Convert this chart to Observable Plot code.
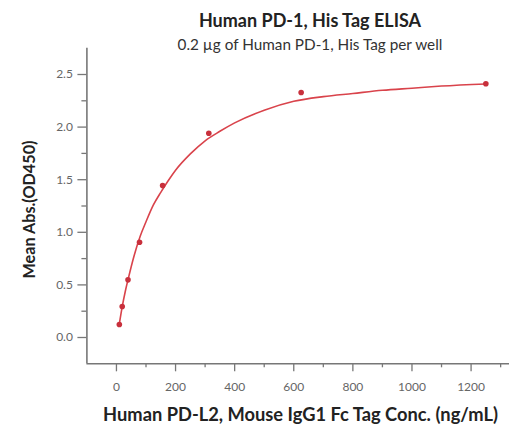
<!DOCTYPE html>
<html>
<head>
<meta charset="utf-8">
<script src="https://cdn.jsdelivr.net/npm/d3@7"></script>
<script src="https://cdn.jsdelivr.net/npm/@observablehq/plot@0.6"></script>
<style>
  html, body { margin: 0; padding: 0; background: #ffffff; }
  body { width: 514px; height: 439px; overflow: hidden; font-family: Lato, sans-serif; }
  .title { position: relative; z-index: 2; margin-top: 10px; height: 20px; line-height: 20px; padding-left: 106px; text-align: center; font-weight: bold; font-size: 18px; color: #222; white-space: nowrap; }
  .subtitle { position: relative; z-index: 2; margin-top: 6px; height: 16px; line-height: 16px; padding-left: 106px; text-align: center; font-size: 15.3px; color: #333; white-space: nowrap; }
  #chart { margin-top: -22px; }
  #chart svg { display: block; }
</style>
</head>
<body>
<div class="title">Human PD-1, His Tag ELISA</div>
<div class="subtitle">0.2 µg of Human PD-1, His Tag per well</div>
<div id="chart"></div>
<script>
// Measured points (concentration ng/mL, mean OD450)
const concentrations = [9.77, 19.5, 39.1, 78.1, 156.25, 312.5, 625, 1250];
const meanAbs = [0.124, 0.295, 0.548, 0.906, 1.445, 1.942, 2.329, 2.412];

// Fitted curve
const fitConc = [9.77, 20, 30, 40, 60, 80, 100, 125, 150, 175, 200, 250, 300, 350, 400, 500, 600, 700, 800, 900, 1000, 1100, 1250];
const fitAbs  = [0.13, 0.30, 0.44, 0.56, 0.78, 0.96, 1.10, 1.26, 1.38, 1.49, 1.59, 1.745, 1.87, 1.96, 2.04, 2.16, 2.245, 2.29, 2.32, 2.35, 2.37, 2.39, 2.41];

// Tick labels
const xTicks = [0, 200, 400, 600, 800, 1000, 1200];
const xMinorTicks = [100, 300, 500, 700, 900, 1100, 1300];
const yTicks = [0.0, 0.5, 1.0, 1.5, 2.0, 2.5];
const yMinorTicks = [0.25, 0.75, 1.25, 1.75, 2.25];

const xTitle = "Human PD-L2, Mouse IgG1 Fc Tag Conc. (ng/mL)";
const yTitle = "Mean Abs.(OD450)";

const points = concentrations.map((c, i) => ({x: c, y: meanAbs[i]}));
const fit = fitConc.map((c, i) => ({x: c, y: fitAbs[i]}));

const axisColor = "#777";
const red = "#d9434b";

const chart = Plot.plot({
  width: 514,
  height: 409,
  marginLeft: 86.4,
  marginRight: 5,
  marginTop: 17.7,
  marginBottom: 75.7,
  style: { fontFamily: "Lato", fontSize: "12px", color: "#666", background: "transparent" },
  x: { domain: [-100, 1330] },
  y: { domain: [-0.25, 2.75] },
  marks: [
    Plot.axisX({ ticks: xTicks, tickSize: 8, tickPadding: 11, tickFormat: d3.format("d"), label: null, stroke: axisColor, strokeWidth: 1.3, fill: "#666", fontSize: 12 }),
    Plot.axisX({ ticks: xMinorTicks, tickSize: 4, tickFormat: () => "", label: null, stroke: axisColor, strokeWidth: 1.3 }),
    Plot.axisY({ ticks: yTicks, tickSize: 9, tickPadding: 5, tickFormat: d3.format(".1f"), label: null, stroke: axisColor, strokeWidth: 1.3, fill: "#666", fontSize: 12 }),
    Plot.axisY({ ticks: yMinorTicks, tickSize: 5, tickFormat: () => "", label: null, stroke: axisColor, strokeWidth: 1.3 }),
    Plot.ruleX([-100], { stroke: axisColor, strokeWidth: 1.6 }),
    Plot.ruleY([-0.25], { stroke: axisColor, strokeWidth: 1.6 }),
    Plot.line(fit, { x: "x", y: "y", stroke: red, strokeWidth: 1.6, curve: "monotone-x" }),
    Plot.dot(points, { x: "x", y: "y", r: 2.8, fill: "#c8303c", stroke: "none" }),
    Plot.text([xTitle], { frameAnchor: "bottom", lineAnchor: "middle", textAnchor: "middle", dx: 2.3, dy: 51, text: d => d, fontWeight: "bold", fontSize: 18.3, fill: "#222" }),
    Plot.text([yTitle], { frameAnchor: "left", lineAnchor: "middle", textAnchor: "middle", dx: -57.4, dy: 3.5, rotate: -90, text: d => d, fontWeight: "bold", fontSize: 16.2, fill: "#222" })
  ]
});
document.getElementById("chart").appendChild(chart);
</script>
</body>
</html>
